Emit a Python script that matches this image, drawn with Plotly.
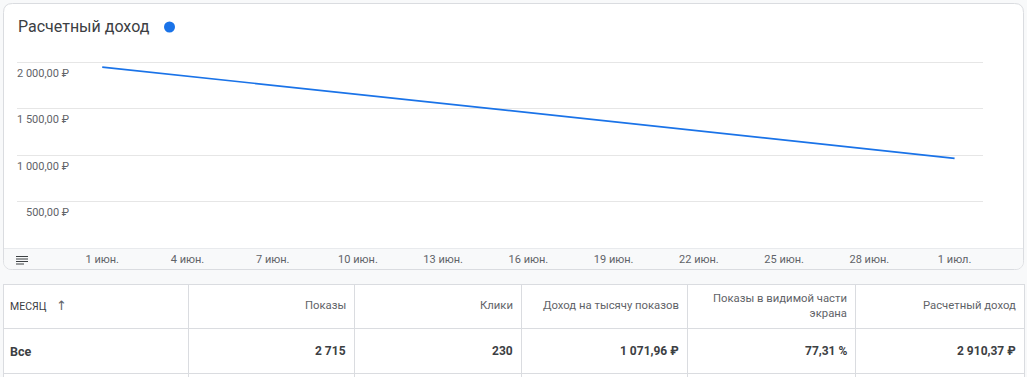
import plotly.graph_objects as go

W, H = 1027, 377

# ---- data ----
months = ["2023-06-01", "2023-07-01"]
revenue = [1945.90, 964.47]
y_ticks = [500, 1000, 1500, 2000]
y_tick_labels = ["500,00 ₽", "1 000,00 ₽", "1 500,00 ₽", "2 000,00 ₽"]
x_ticks = ["2023-06-01", "2023-06-04", "2023-06-07", "2023-06-10", "2023-06-13",
           "2023-06-16", "2023-06-19", "2023-06-22", "2023-06-25", "2023-06-28",
           "2023-07-01"]
x_tick_labels = ["1 июн.", "4 июн.", "7 июн.", "10 июн.", "13 июн.", "16 июн.",
                 "19 июн.", "22 июн.", "25 июн.", "28 июн.", "1 июл."]
table_headers = ["МЕСЯЦ", "Показы", "Клики", "Доход на тысячу показов",
                 "Показы в видимой части<br>экрана", "Расчетный доход"]
table_row = ["Все", "2 715", "230", "1 071,96 ₽", "77,31 %", "2 910,37 ₽"]
title = "Расчетный доход"


def px(x):
    return x / W


def py(y):
    return 1 - y / H


FONT = "Roboto, Arial, sans-serif"
DARK = "#3c4043"
GREY = "#5f6368"
LINE = "#dadce0"

fig = go.Figure()
fig.add_trace(go.Scatter(
    x=months, y=revenue, mode="lines",
    line=dict(color="#1a73e8", width=1.7),
    hoverinfo="skip", showlegend=False,
))

shapes = []


def rrect(x0, y0, x1, y1, r, fill, line_color, line_width, top_round=True, bot_round=True, layer="below"):
    rt = r if top_round else 0
    rb = r if bot_round else 0
    path = (
        f"M {px(x0 + rt)} {py(y0)} L {px(x1 - rt)} {py(y0)} "
        f"Q {px(x1)} {py(y0)} {px(x1)} {py(y0 + rt)} "
        f"L {px(x1)} {py(y1 - rb)} Q {px(x1)} {py(y1)} {px(x1 - rb)} {py(y1)} "
        f"L {px(x0 + rb)} {py(y1)} Q {px(x0)} {py(y1)} {px(x0)} {py(y1 - rb)} "
        f"L {px(x0)} {py(y0 + rt)} Q {px(x0)} {py(y0)} {px(x0 + rt)} {py(y0)} Z"
    )
    return dict(type="path", xref="paper", yref="paper", path=path,
                fillcolor=fill, line=dict(color=line_color, width=line_width), layer=layer)


# card
shapes.append(rrect(3.5, 3.5, 1023.5, 269.5, 9, "#ffffff", LINE, 1))
# bottom grey strip of card
shapes.append(rrect(4, 248.5, 1023, 269, 8, "#f8f9fa", "rgba(0,0,0,0)", 0, top_round=False))
shapes.append(dict(type="line", xref="paper", yref="paper", x0=px(4), x1=px(1023),
                   y0=py(248.5), y1=py(248.5), line=dict(color="#e8eaed", width=1), layer="below"))
# menu icon
for yy, x1 in [(256.5, 28), (259, 28), (261.5, 28), (264, 24)]:
    shapes.append(dict(type="line", xref="paper", yref="paper", x0=px(16), x1=px(x1),
                       y0=py(yy), y1=py(yy), line=dict(color=DARK, width=1), layer="above"))
# title dot
shapes.append(dict(type="circle", xref="paper", yref="paper",
                   x0=px(164), x1=px(175), y0=py(21.5), y1=py(32.5),
                   fillcolor="#1a73e8", line=dict(width=0), layer="above"))

# table
col_edges = [3, 188, 354, 521, 687, 855, 1024]
t_top, t_head, t_row, t_bot = 284, 328.5, 373.5, 377
shapes.append(dict(type="rect", xref="paper", yref="paper", x0=px(3), x1=px(1024),
                   y0=py(t_top), y1=py(t_bot + 5), fillcolor="#ffffff",
                   line=dict(width=0), layer="below"))
for yy in [t_top + 0.5, t_head, t_row]:
    shapes.append(dict(type="line", xref="paper", yref="paper", x0=px(3), x1=px(1024),
                       y0=py(yy), y1=py(yy), line=dict(color=LINE, width=1), layer="above"))
for i, xx in enumerate(col_edges):
    shapes.append(dict(type="line", xref="paper", yref="paper", x0=px(xx + 0.5), x1=px(xx + 0.5),
                       y0=py(t_top), y1=py(t_bot + 2), line=dict(color=LINE, width=1), layer="above"))

annotations = []
annotations.append(dict(text=title, xref="paper", yref="paper", x=px(16), y=py(27),
                        xanchor="left", yanchor="middle", showarrow=False,
                        font=dict(family=FONT, size=16, color=DARK)))
for v, t in zip(y_ticks, y_tick_labels):
    annotations.append(dict(text=t, xref="paper", yref="y", x=px(71), y=v, yshift=-11,
                            xanchor="right", yanchor="middle", showarrow=False,
                            font=dict(family=FONT, size=11, color=GREY)))

head_y = (t_top + t_head) / 2
row_y = (t_head + t_row) / 2
for i, (h, v) in enumerate(zip(table_headers, table_row)):
    if i == 0:
        annotations.append(dict(text=h, xref="paper", yref="paper", x=px(8), y=py(head_y),
                                xanchor="left", yanchor="middle", showarrow=False,
                                font=dict(family=FONT, size=10.5, color=DARK)))
        annotations.append(dict(text="↑", xref="paper", yref="paper", x=px(54), y=py(head_y - 1),
                                xanchor="left", yanchor="middle", showarrow=False,
                                font=dict(family="DejaVu Sans, sans-serif", size=13, color=GREY)))
        annotations.append(dict(text=f"<b>{v}</b>", xref="paper", yref="paper", x=px(8), y=py(row_y),
                                xanchor="left", yanchor="middle", showarrow=False,
                                font=dict(family=FONT, size=12.5, color=DARK)))
    else:
        xr = col_edges[i + 1] - 6
        annotations.append(dict(text=h, xref="paper", yref="paper", x=px(xr), y=py(head_y - 0.5),
                                xanchor="right", yanchor="middle", align="right", showarrow=False,
                                font=dict(family=FONT, size=11.3, color=GREY)))
        annotations.append(dict(text=f"<b>{v}</b>", xref="paper", yref="paper", x=px(xr), y=py(row_y),
                                xanchor="right", yanchor="middle", showarrow=False,
                                font=dict(family=FONT, size=12, color=DARK)))

# y axis: 0 at pixel 248, 2000 at pixel 62 -> extend range slightly so top grid line shows
y_top_val = 2020
y_top_px = 248 - y_top_val * (186 / 2000)

fig.update_layout(
    width=W, height=H,
    margin=dict(l=0, r=0, t=0, b=0),
    paper_bgcolor="#f8f9fa",
    plot_bgcolor="rgba(0,0,0,0)",
    shapes=shapes,
    annotations=annotations,
    showlegend=False,
    font=dict(family=FONT),
    xaxis=dict(
        domain=[px(17), px(983)],
        type="date",
        range=["2023-05-29 00:00", "2023-07-02 00:00"],
        tickvals=x_ticks, ticktext=x_tick_labels,
        showgrid=False, zeroline=False, showline=False,
        ticks="", ticklabelstandoff=3,
        tickfont=dict(family=FONT, size=11, color=GREY),
        fixedrange=True,
    ),
    yaxis=dict(
        domain=[py(248), py(y_top_px)],
        range=[0, y_top_val],
        tickvals=[0] + y_ticks,
        showticklabels=False,
        showgrid=True, gridcolor="#e6e6e6", gridwidth=1,
        zeroline=False, showline=False, ticks="",
        fixedrange=True,
    ),
)

fig.write_html(
    "out.html",
    config={"displayModeBar": False},
    post_script="document.body.style.margin='0';document.body.style.overflow='hidden';",
)
